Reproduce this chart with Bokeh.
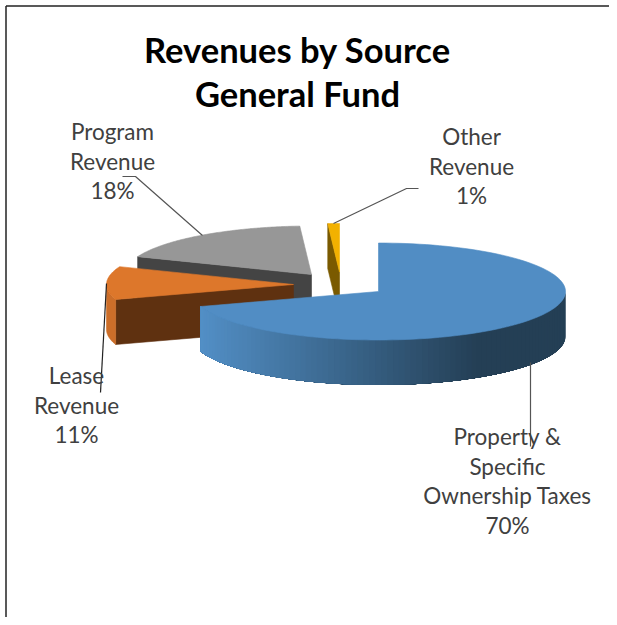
import numpy as np
from bokeh.plotting import figure
from bokeh.core.properties import value
from bokeh.embed import file_html
from bokeh.resources import INLINE

# ---- data ----
categories = ["Property & Specific Ownership Taxes", "Lease Revenue", "Program Revenue", "Other Revenue"]
shares = [70, 11, 18, 1]
title_lines = ["Revenues by Source", "General Fund"]
label_lines = [
    ["Property &", "Specific", "Ownership Taxes", "70%"],
    ["Lease", "Revenue", "11%"],
    ["Program", "Revenue", "18%"],
    ["Other", "Revenue", "1%"],
]

# ---- layout (pixels in the picture) ----
L, T, R, B = 0, 0, 609, 617
FRAME = 5.5
RX, RY, DEPTH = 187, 48.5, 45
apex = [(378, 291), (293, 284), (311, 274), (339, 271.5)]
top_col = ["#518dc4", "#dd772b", "#979797", "#f2b100"]
face_col = [None, "#5f3110", "#444444", "#7a5a00"]
rim_col = [None, "#cc6e29", None, None]
label_pos = [(507, 436), (76, 375), (112, 131), (471, 136)]
LINE_STEP = 29.6
leaders = [
    ([530, 530], [362, 446], "#555555"),
    ([106, 100], [283, 392], "#222222"),
    ([202, 135, 122], [235, 176, 176], "#555555"),
    ([333, 406, 418], [223, 188, 188], "#555555"),
]

p = figure(width=R - L, height=B - T, x_range=(L, R), y_range=(B, T),
           output_backend="svg", toolbar_location=None, min_border=0,
           x_axis_location=None, y_axis_location=None, outline_line_color=None,
           background_fill_color="white", border_fill_color="white")
p.grid.visible = False

# chart frame
p.line([FRAME, FRAME], [B, FRAME], line_color="#222222", line_width=1.5)
p.line([FRAME, R], [FRAME, FRAME], line_color="#222222", line_width=1.5)


def pt(c, deg):
    a = np.radians(deg)
    return c[0] + RX * np.sin(a), c[1] - RY * np.cos(a)


def draw(x, y, col):
    p.patch(list(x), list(y), fill_color=col, line_color=col, line_width=0.6)


def blend(a, b, t):
    ca = [int(a[i:i + 2], 16) for i in (1, 3, 5)]
    cb = [int(b[i:i + 2], 16) for i in (1, 3, 5)]
    return "#%02x%02x%02x" % tuple(int(round(u + (v - u) * t)) for u, v in zip(ca, cb))


# slice angles, clockwise from 12 o'clock, from the shares
ends = np.cumsum(shares) / np.sum(shares) * 360
starts = np.concatenate(([0], ends[:-1]))

# back to front
for i in (3, 2, 1, 0):
    c, a0, a1 = apex[i], starts[i], ends[i]
    # radial face seen from the front
    if face_col[i]:
        ex, ey = pt(c, a0)
        draw([ex, c[0], c[0], ex], [ey, c[1], c[1] + DEPTH, ey + DEPTH], face_col[i])
    # outer rim (lower half of the ellipse only)
    lo, hi = max(a0, 90), min(a1, 270)
    if lo < hi:
        if i == 0:
            # shaded rim: painted from the dark end, each strip reaching under the next
            steps = np.linspace(lo, hi, 90)
            for s0 in steps[:-1]:
                arc = np.linspace(s0, hi, 40)
                xs, ys = zip(*[pt(c, s) for s in arc])
                t = min(1.0, max(0.0, (480 - xs[0]) / (480 - 201)))
                col = blend("#243f55", "#528fc6", t)
                p.patch(list(xs) + list(xs[::-1]),
                        list(ys) + [v + DEPTH for v in ys[::-1]],
                        fill_color=col, line_color=None)
        else:
            steps = np.linspace(lo, hi, 20)
            xs, ys = zip(*[pt(c, s) for s in steps])
            draw(list(xs) + list(xs[::-1]),
                 list(ys) + [v + DEPTH for v in ys[::-1]], rim_col[i])
    # top face
    arc = np.linspace(a0, a1, 120)
    xs, ys = zip(*[pt(c, s) for s in arc])
    draw([c[0]] + list(xs), [c[1]] + list(ys), top_col[i])

# leader lines
for lx, ly, col in leaders:
    p.line(lx, ly, line_color=col, line_width=1.2)

# labels
for i, lines in enumerate(label_lines):
    x0, y0 = label_pos[i]
    for k, line in enumerate(lines):
        p.text([x0], [y0 + k * LINE_STEP], text=[line], text_align="center",
               text_baseline="middle", text_color="#404040",
               text_font=value("Lato"), text_font_size="22.5px")

for k, line in enumerate(title_lines):
    p.text([297], [49 + k * 44], text=[line], text_align="center",
           text_baseline="middle", text_color="#000000",
           text_font=value("Lato"), text_font_size="34.5px", text_font_style="bold")

open("out.html", "w").write(file_html(p, INLINE))
